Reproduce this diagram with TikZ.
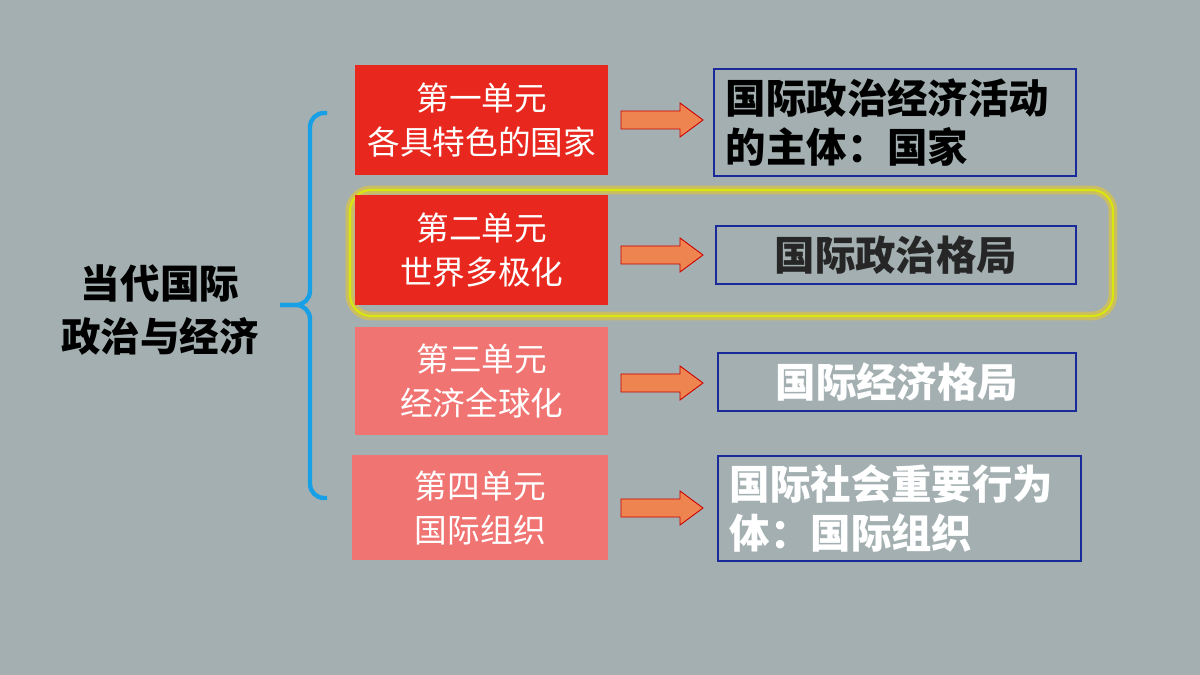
\documentclass[tikz,border=0pt]{standalone}
\usepackage{fontspec}
\newfontfamily\cjk{Noto Sans CJK SC}
\definecolor{bg}{HTML}{A3AFB0}
\definecolor{unitred}{HTML}{E8281E}
\definecolor{unitpink}{HTML}{F07472}
\definecolor{arrowfill}{HTML}{EE8450}
\definecolor{bracecol}{HTML}{18A0E6}
\definecolor{boxblue}{HTML}{1A2A9A}
\tikzset{
  unit/.style={anchor=north west,inner sep=0pt,font=\cjk\fontsize{18.6}{25}\selectfont,
    text=white,align=center},
  topic/.style={draw=boxblue,line width=1pt,anchor=north west,inner sep=0pt,
    font=\cjk\bfseries\fontsize{23}{28}\selectfont},
  blockarrow/.style={draw=red!80!black,fill=arrowfill,line width=0.5pt},
}
\begin{document}
\begin{tikzpicture}[x=0.02cm,y=-0.02cm]
  \fill[bg] (0,0) rectangle (1200,675);

  % glow around unit two
  \draw[yellow!70!orange,line width=5pt,opacity=0.45,rounded corners=12pt] (350,190) rectangle (1113,316);
  \draw[yellow!85!green,line width=1.2pt,rounded corners=12pt] (350,190) rectangle (1113,316);

  \node[font=\cjk\bfseries\fontsize{22.5}{30}\selectfont,align=center] (title) at (160,310) {当代国际\\政治与经济};
  \draw[bracecol,line width=2.5pt,rounded corners=8pt]
    (327,113) -- (310,113) -- (310,305) -- (280,305);
  \draw[bracecol,line width=2.5pt,rounded corners=8pt]
    (327,498) -- (310,498) -- (310,305) -- (280,305);

  % units
  \node[unit,fill=unitred,minimum width=253*0.02cm,minimum height=110*0.02cm] (u1) at (355,65) {第一单元\\各具特色的国家};
  \node[unit,fill=unitred,minimum width=253*0.02cm,minimum height=110*0.02cm] (u2) at (355,195) {第二单元\\世界多极化};
  \node[unit,fill=unitpink,minimum width=253*0.02cm,minimum height=108*0.02cm] (u3) at (355,327) {第三单元\\经济全球化};
  \node[unit,fill=unitpink,minimum width=256*0.02cm,minimum height=105*0.02cm] (u4) at (352,455) {第四单元\\国际组织};

  % topics
  \node[topic,minimum width=362*0.02cm,minimum height=107*0.02cm,align=left,text width=358*0.02cm] (t1) at (713,68) {\hspace*{0.2cm}国际政治经济活动\\\hspace*{0.2cm}的主体：国家};
  \node[topic,minimum width=360*0.02cm,minimum height=58*0.02cm,text=black!85] (t2) at (715,225) {国际政治格局};
  \node[topic,minimum width=358*0.02cm,minimum height=58*0.02cm,text=white] (t3) at (717,352) {国际经济格局};
  \node[topic,minimum width=363*0.02cm,minimum height=105*0.02cm,text=white,align=left,text width=359*0.02cm] (t4) at (717,455) {\hspace*{0.2cm}国际社会重要行为\\\hspace*{0.2cm}体：国际组织};

  % arrows
  \foreach \y in {120,255,383,508}
    \draw[blockarrow] (621,\y-9) -- (680,\y-9) -- (680,\y-17) -- (703,\y)
      -- (680,\y+17) -- (680,\y+9) -- (621,\y+9) -- cycle;
\end{tikzpicture}
\end{document}
